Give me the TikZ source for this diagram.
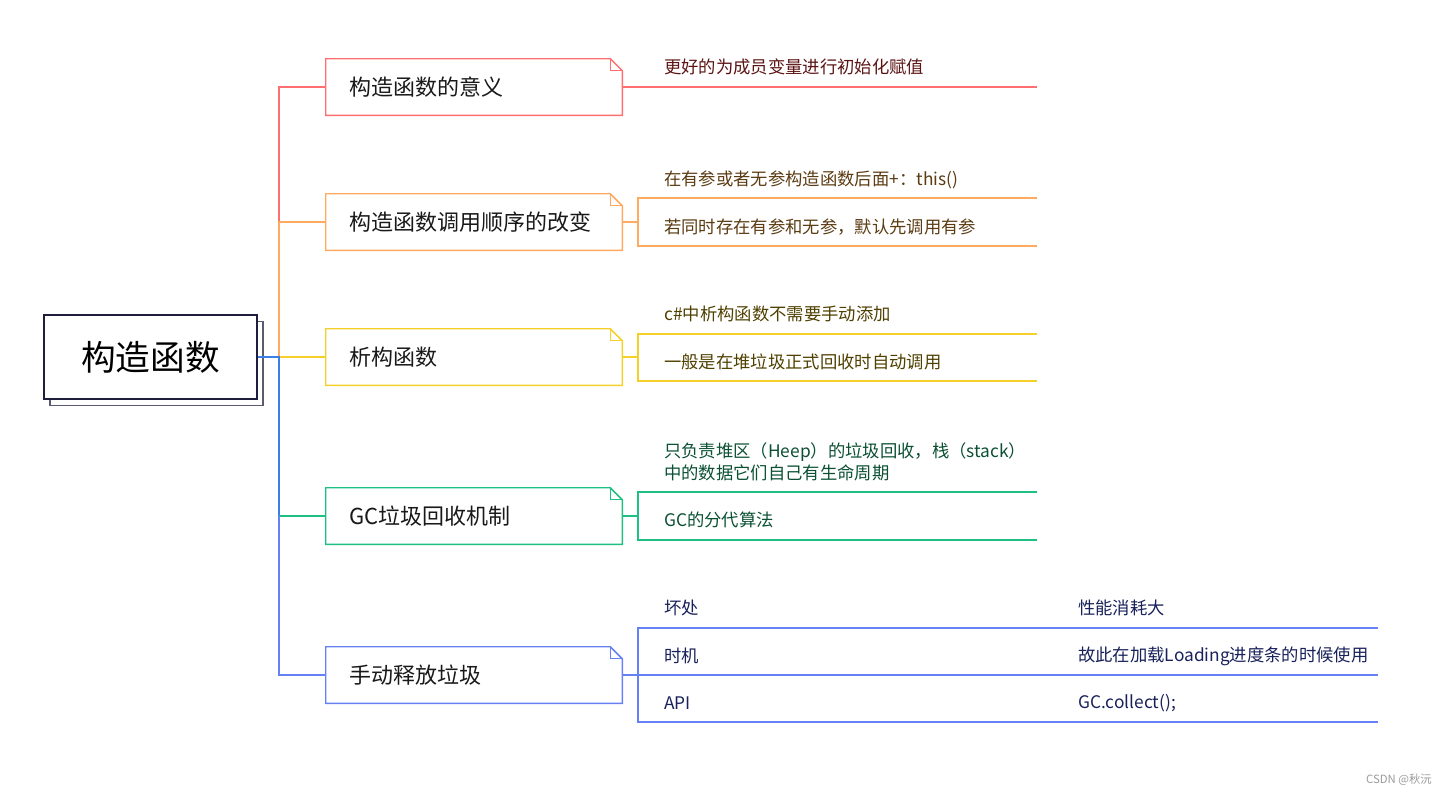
\documentclass[tikz,border=0pt]{standalone}
\usepackage{fontspec}
\setmainfont{Noto Sans CJK SC}
\definecolor{redc}{HTML}{FF6F6F}
\definecolor{orangec}{HTML}{FFAA60}
\definecolor{yellowc}{HTML}{F5CF2A}
\definecolor{greenc}{HTML}{1DBF82}
\definecolor{bluec}{HTML}{3C7EE8}
\definecolor{lavc}{HTML}{6680F5}
\definecolor{rootc}{HTML}{1E1E3C}
\definecolor{shadowc}{HTML}{5A5A70}
\definecolor{tred}{HTML}{5C1414}
\definecolor{torange}{HTML}{5B3B12}
\definecolor{tyellow}{HTML}{4F4000}
\definecolor{tgreen}{HTML}{0B5033}
\definecolor{tblue}{HTML}{18215A}
\definecolor{wm}{HTML}{9A9A9A}
\newcommand\foldbox[2]{%
  \draw[#2, line width=1.1pt] (#1.south west) -- (#1.north west) -- ([xshift=-9pt]#1.north east) -- ([yshift=-9pt]#1.north east) -- (#1.south east) -- cycle;
  \draw[#2, line width=0.9pt] ([xshift=-9pt]#1.north east) -- ([xshift=-9pt,yshift=-9pt]#1.north east) -- ([yshift=-9pt]#1.north east);}
\begin{document}
\begin{tikzpicture}[x=0.75pt,y=-0.75pt,
  branch/.style={minimum width=222pt, minimum height=42pt, inner xsep=17.25pt, inner ysep=0pt,
    text width=187.5pt, align=left, font=\fontsize{16.5}{20}\selectfont, text=black!90},
  leaf/.style={anchor=west, inner sep=0pt, align=left, font=\fontsize{13}{16.5}\selectfont},
  conn/.style={line width=1.1pt},
  rootbox/.style={line width=1.1pt, minimum width=159.75pt, minimum height=63pt, fill=white}]
\useasboundingbox (0,0) rectangle (1447,796);

% root
\node[rootbox, draw=shadowc] (rootsh) at (156.5,363.5) {};
\node[rootbox, draw=rootc, font=\fontsize{26}{30}\selectfont, text=black] (root) at (150.5,357) {构造函数};

% branches
\node[branch] (b1) at (474,87) {构造函数的意义};
\node[branch] (b2) at (474,222) {构造函数调用顺序的改变};
\node[branch] (b3) at (474,357) {析构函数};
\node[branch] (b4) at (474,516) {GC垃圾回收机制};
\node[branch] (b5) at (474,675) {手动释放垃圾};
\foldbox{b1}{redc}
\foldbox{b2}{orangec}
\foldbox{b3}{yellowc}
\foldbox{b4}{greenc}
\foldbox{b5}{lavc}

% trunk
\coordinate (j) at (279,357);
\draw[conn, redc] (j) |- (b1.west);
\draw[conn, orangec] (j) |- (b2.west);
\draw[conn, yellowc] (j) -- (b3.west);
\coordinate (j4) at (j |- b4.west);
\draw[conn, bluec] (root.east) -- (j) -- (j4);
\draw[conn, greenc] (j4) -- (b4.west);
\draw[conn, lavc] (j4) |- (b5.west);

% leaf lines
\coordinate (e1) at (1037,87);
\draw[conn, redc] (b1.east) -- (e1);

\coordinate (b2t) at (638,198); \coordinate (b2te) at (1037,198);
\coordinate (b2b) at (638,246); \coordinate (b2be) at (1037,246);
\draw[conn, orangec] (b2.east) -- (b2.east -| b2t);
\draw[conn, orangec] (b2te) -- (b2t) -- (b2b) -- (b2be);

\coordinate (b3t) at (638,334); \coordinate (b3te) at (1037,334);
\coordinate (b3b) at (638,381); \coordinate (b3be) at (1037,381);
\draw[conn, yellowc] (b3.east) -- (b3.east -| b3t);
\draw[conn, yellowc] (b3te) -- (b3t) -- (b3b) -- (b3be);

\coordinate (b4t) at (638,492); \coordinate (b4te) at (1037,492);
\coordinate (b4b) at (638,540); \coordinate (b4be) at (1037,540);
\draw[conn, greenc] (b4.east) -- (b4.east -| b4t);
\draw[conn, greenc] (b4te) -- (b4t) -- (b4b) -- (b4be);

\coordinate (b5t) at (638,628); \coordinate (b5te) at (1378,628);
\coordinate (b5m) at (638,675); \coordinate (b5me) at (1378,675);
\coordinate (b5b) at (638,722); \coordinate (b5be) at (1378,722);
\draw[conn, lavc] (b5.east) -- (b5m);
\draw[conn, lavc] (b5te) -- (b5t) -- (b5b) -- (b5be);
\draw[conn, lavc] (b5m) -- (b5me);

% leaf texts
\node[leaf, text=tred] (l11) at (664,67) {更好的为成员变量进行初始化赋值};
\node[leaf, text=torange] (l21) at (664,180) {在有参或者无参构造函数后面+：this()};
\node[leaf, text=torange] (l22) at (664,227) {若同时存在有参和无参，默认先调用有参};
\node[leaf, text=tyellow] (l31) at (664,314) {c\#中析构函数不需要手动添加};
\node[leaf, text=tyellow] (l32) at (664,362) {一般是在堆垃圾正式回收时自动调用};
\node[leaf, text=tgreen] (l41) at (664,462) {只负责堆区（Heep）的垃圾回收，栈（stack）\\中的数据它们自己有生命周期};
\node[leaf, text=tgreen] (l42) at (664,520) {GC的分代算法};
\node[leaf, text=tblue] (l51) at (664,608) {坏处};
\node[leaf, text=tblue] (l52) at (664,656) {时机};
\node[leaf, text=tblue] (l53) at (664,703) {API};
\node[leaf, text=tblue] (l61) at (1078,608) {性能消耗大};
\node[leaf, text=tblue] (l62) at (1078,656) {故此在加载Loading进度条的时候使用};
\node[leaf, text=tblue] (l63) at (1078,703) {GC.collect();};

% watermark
\node[anchor=east, inner sep=0pt, text=wm, font=\fontsize{8.5}{10}\selectfont] (wmark) at (1432,780) {CSDN @秋沅};
\end{tikzpicture}
\end{document}
